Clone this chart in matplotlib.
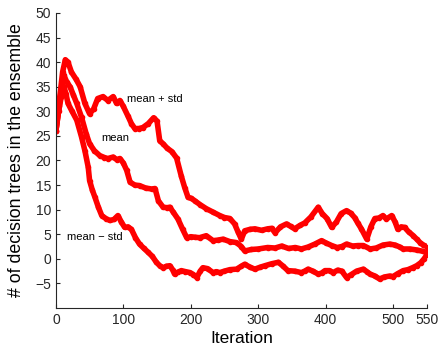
import numpy as np
import matplotlib
matplotlib.use("Agg")
import matplotlib.pyplot as plt

plt.rcParams['font.family'] = ['Liberation Sans', 'DejaVu Sans']

# Ensemble size per iteration: mean and mean +/- one std
it_upper = [0, 5, 10, 14, 18, 23, 30, 36, 43, 50, 56, 62, 70, 77, 85, 90, 95, 100,
            107, 112, 117, 123, 129, 137, 145, 150, 154, 159, 165, 172, 179, 186,
            191, 196, 201, 206, 214, 223, 233, 243, 250, 258, 265, 270, 275, 280,
            288, 295, 305, 314, 320, 325, 333, 342, 348, 354, 362, 369, 378, 389,
            395, 402, 409, 416, 423, 431, 437, 443, 448, 453, 461, 467, 473, 479,
            485, 490, 498, 503, 507, 512, 517, 523, 530, 535, 540, 545, 550]
upper = [26, 32, 38, 40.5, 40, 38, 36.5, 35, 31.6, 29.5, 30.5, 32.6, 33, 32.2, 33,
         31.6, 32.2, 31, 29, 27.5, 26.5, 26.5, 26.7, 27.5, 28.7, 28, 24, 23.4, 22.5,
         21.8, 20.5, 16.8, 14.5, 12.5, 12.3, 11.8, 11, 10.2, 9.5, 8.8, 8.4, 8.2, 7.1,
         5.5, 4, 5.7, 6, 6.1, 5.8, 6.1, 6.2, 5.3, 6.5, 7.1, 6.6, 6.1, 6.8, 7.3, 8.5,
         10.5, 9.2, 8.2, 6.4, 7.5, 9.2, 9.8, 9.3, 8.4, 7.2, 6.1, 4, 6.5, 8.2, 8.3,
         8.8, 8.1, 8.8, 7.5, 6, 6.5, 6.4, 5.5, 4.7, 4, 3.3, 2.8, 2.5]

it_mean = [0, 5, 9, 12, 16, 21, 26, 31, 38, 45, 50, 57, 65, 72, 77, 85, 90, 95, 100,
           105, 110, 117, 124, 133, 142, 147, 152, 159, 165, 169, 174, 181, 188, 194,
           200, 206, 213, 223, 233, 240, 248, 258, 268, 275, 280, 290, 300, 314, 325,
           335, 345, 355, 364, 374, 384, 394, 401, 409, 417, 424, 431, 440, 448, 456,
           466, 475, 485, 495, 503, 510, 515, 525, 535, 545, 550]
mean = [26, 31, 35.5, 37.3, 36, 35, 33.3, 31.6, 28.8, 25.4, 23.4, 22, 21, 20.6, 20.4,
        20.7, 20.2, 20.4, 19.5, 18, 15.6, 15, 14.9, 14.4, 14.2, 14.3, 11.8, 10.5, 10.4,
        10.5, 9.5, 8.1, 6, 4.3, 4.5, 4.4, 4.3, 4.7, 3.7, 3.8, 4, 3.5, 3.3, 2.5, 1.6,
        1.9, 2, 2.3, 2.2, 2.6, 2.1, 2.3, 2, 2.4, 3, 3.7, 3.2, 2.7, 2.3, 2.5, 3, 2.6,
        2.7, 2.7, 2, 2.2, 2.8, 3, 2.8, 2.4, 2, 2, 1.8, 1.5, 1.3]

it_lower = [0, 4, 8, 12, 15, 18, 24, 31, 38, 43, 48, 50, 54, 58, 63, 68, 74, 80, 86,
            92, 97, 102, 107, 112, 118, 124, 130, 137, 143, 149, 154, 159, 164, 169,
            173, 176, 181, 186, 192, 199, 204, 209, 214, 218, 225, 233, 238, 243, 250,
            258, 268, 275, 280, 288, 295, 303, 310, 320, 330, 337, 344, 354, 364, 369,
            374, 381, 389, 394, 399, 406, 411, 418, 424, 431, 438, 446, 456, 461, 466,
            473, 480, 487, 495, 500, 507, 515, 522, 529, 535, 541, 546, 550]
lower = [26, 30, 33, 35, 33.5, 31.6, 30, 28.2, 24.8, 22, 18.6, 15.9, 14, 12.5, 10.5,
         8.8, 8.2, 7.8, 8, 8.8, 7.5, 6.4, 6.5, 6, 4.3, 3, 2.2, 1.3, 0.5, -0.7, -1.4,
         -1.8, -1.5, -1.4, -2.2, -3.1, -2.7, -2.4, -2.6, -2.8, -3.2, -3.8, -2.5, -1.8,
         -2, -2.8, -2.6, -2.8, -2.5, -2.2, -2.1, -1.5, -1.1, -1.7, -2.1, -1.7, -1.4,
         -1, -0.7, -1.5, -2.4, -2.5, -2.8, -2.5, -2.1, -2.5, -3.1, -2.9, -2.4, -2.4,
         -2.8, -2.3, -2.5, -3.8, -3.2, -2.5, -2.1, -2.6, -3.1, -3.5, -4.1, -3.7, -3.5,
         -3.6, -3, -2.4, -2.2, -1.8, -1.4, -0.8, 0, 0.8]

xticks = [0, 100, 200, 300, 400, 500, 550]
yticks = list(range(-5, 51, 5))

fig = plt.figure(figsize=(4.4, 3.49), dpi=100)
ax = fig.add_axes([0.127, 0.1175, 0.843, 0.8453])

for xs, ys in [(it_upper, upper), (it_mean, mean), (it_lower, lower)]:
    ax.plot(xs, ys, color='red', lw=4, marker='.', ms=6,
            solid_joinstyle='round', solid_capstyle='round')

ax.text(105, 32.6, 'mean + std', fontsize=8, va='center')
ax.text(68, 24.5, 'mean', fontsize=8, va='center')
ax.text(16, 4.5, 'mean \u2212 std', fontsize=8, va='center')

ax.set_xlim(0, 550)
ax.set_ylim(-10, 50)
ax.set_xticks(xticks)
ax.set_yticks(yticks)
ax.tick_params(direction='in', length=3, labelsize=10, colors='#262626')
for side in ['top', 'right']:
    ax.spines[side].set_visible(False)
for side in ['left', 'bottom']:
    ax.spines[side].set_color('#262626')
    ax.spines[side].set_linewidth(0.8)

ax.set_xlabel('Iteration', fontsize=12.5, labelpad=3)
ax.set_ylabel('# of decision trees in the ensemble', fontsize=12.8, labelpad=7)

fig.savefig('out.png', dpi=100)
